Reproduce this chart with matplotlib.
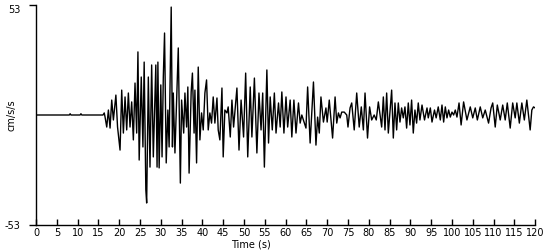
"""
Accelerogram trace (cm/s/s) against time, read off the reference picture.
"""

import matplotlib
matplotlib.use("Agg")
import matplotlib.pyplot as plt

# ==================== data ====================

# times (s) of the trace's turning points
TIME = [
    0.0, 8.0, 8.2, 8.4, 10.6, 10.8, 11.0, 16.1, 16.4, 16.6,
    17.0, 17.4, 17.8, 18.2, 18.6, 19.2, 19.6, 20.2, 20.6, 21.0, 21.4, 21.8,
    22.2, 22.6, 23.0, 23.4, 23.8, 24.2, 24.5, 24.8, 25.3, 25.7, 26.0, 26.4,
    26.6, 27.0, 27.4, 27.8, 28.2, 28.8, 29.1, 29.3, 29.6, 30.0, 30.3, 30.6,
    30.9, 31.3, 31.7, 32.0, 32.5, 32.8, 33.0, 33.4, 33.8, 34.2, 34.7, 35.0,
    35.5, 35.8, 36.2, 36.5, 36.8, 37.3, 37.6, 38.0, 38.2, 38.6, 39.0, 39.4,
    39.8, 40.2, 40.6, 41.0, 41.4, 41.8, 42.2, 42.6, 43.0, 43.5, 43.8,
    44.2, 44.7, 45.0, 45.4, 45.9, 46.2, 46.7, 47.1, 47.5, 48.3, 48.8, 49.3,
    49.9, 50.4, 50.9, 51.5, 51.9, 52.5, 53.1, 53.6, 54.1, 54.5, 54.9, 55.5,
    55.9, 56.3, 56.8, 57.3, 57.7, 58.3, 58.7, 59.1, 59.6, 60.1, 60.5, 61.1,
    61.5, 62.0, 62.5,
    63.1, 63.5, 63.9, 64.9, 65.3, 65.9, 66.3, 66.7, 67.3, 67.7, 68.1, 68.5,
    69.1, 69.7, 70.0, 70.5, 71.3, 71.9, 72.3, 72.7, 73.1, 73.5, 74.1, 74.7,
    75.0, 75.5, 75.9, 76.5, 77.1, 77.7, 78.2, 78.7, 79.1, 79.7, 80.2, 80.7,
    81.3, 81.8, 82.3,
    83.1, 83.5, 83.9, 84.3, 84.7, 85.5, 85.9, 86.3, 86.7, 87.1, 87.5, 87.9,
    88.3, 88.7, 89.1, 89.5, 89.9, 90.3, 90.7, 91.1, 91.5, 91.9, 92.3, 92.8,
    93.4, 94.0, 94.3, 94.8, 95.2, 95.8, 96.2, 96.7, 97.2, 97.6, 98.0, 98.4,
    98.8, 99.2, 99.6, 100.0, 100.4, 100.8, 101.2, 101.7, 102.2, 102.8,
    103.6, 104.4, 105.0, 105.6, 106.1, 106.8, 107.4, 108.0, 108.8, 109.4,
    109.8, 110.4, 110.9, 111.6, 112.2, 112.8, 113.3, 114.0, 114.6, 115.2,
    115.6, 116.2, 116.8, 117.4, 118.0, 118.8, 119.2, 119.6, 120.0,
]

# acceleration (cm/s/s) at those times
ACCEL = [
    0.0, 0.0, 0.6, 0.0, 0.0, 0.6, 0.0, 0.0, 1.0, -1.0,
    -5.8, 2.4, -6.3, 7.2, -2.4, 9.6, -5.8, -16.9, 12.0, -8.7, 8.7, -7.2,
    10.6, -5.8, 6.3, -12.0, 15.4, -8.7, 30.4, -21.7, 18.3, -15.4, 25.5, -36.1,
    -42.4, 18.3, -25.1, 24.1, -20.2, 24.1, -25.1, 25.5, -25.5, 14.5, -20.2, 18.3,
    39.5, -23.1, 2.4, -15.4, 52.0, -15.4, 10.6, -18.3, 7.2, 32.3, -32.8, 7.2,
    -8.7, 10.6, -5.8, 13.5, -28.0, 11.1, 20.2, -8.7, 12.0, -23.1, 23.1, -12.0,
    1.0, -7.2, 10.6, 16.9, -7.2, 1.0, -3.9, 8.7, -3.9, 8.2, -7.2,
    -12.0, 13.0, -20.2, 2.4, 1.0, 3.9, -10.6, 7.2, -5.8, 13.0, -16.9, 7.2,
    -10.6, 20.2, -20.2, 13.5, -10.6, 17.8, -18.3, 10.6, -7.2, 10.6, -25.1, 21.7,
    -13.5, 8.7, -7.2, 10.6, -8.7, 5.8, -5.8, 11.1, -8.7, 8.7, -5.8, 7.2,
    -10.6, 7.2, -8.7,
    5.8, -3.9, 0.0, -6.3, 13.5, -13.5, 1.0, 15.9, -14.5, -1.0, -8.7, 8.7,
    -3.4, 3.4, -3.4, 7.2, -11.1, 8.7, -3.9, 1.0, -1.4, 1.4, 1.4, 0.0,
    -5.8, 3.4, 5.8, -7.2, 10.6, -5.8, 3.9, -7.2, 10.6, -11.1, 3.9, -2.4,
    0.0, -2.4, 6.3,
    -5.8, 8.7, -7.2, 10.6, -8.7, 12.0, -11.1, 5.8, -7.2, 5.8, -3.4, 3.4,
    -1.4, 3.9, -6.3, 5.8, -4.8, 7.2, -8.7, 2.4, -3.9, 5.8, -2.4, 4.8,
    -2.4, 3.4, -1.4, 3.4, -3.4, 2.4, -1.4, 3.9, -2.4, 4.8, -3.4, 3.9,
    -1.4, 2.4, -1.0, 1.4, 0.0, 2.4, -1.0, 5.8, -4.8, 6.3,
    -2.4, 3.9, -1.4, 3.4, -2.4, 3.9, -1.4, 2.4, -3.9, 3.4,
    5.8, -5.8, 4.8, -2.4, 4.8, -2.4, 5.8, -6.3, 5.8, -1.4,
    5.8, -3.9, 5.8, -2.4, 7.2, -7.2, 2.4, 3.9, 3.4,
]

Y_MAX = 53
X_TICKS = list(range(0, 121, 5))

# ==================== plot ====================

plt.rcParams["font.family"] = "DejaVu Sans"

fig = plt.figure(figsize=(5.5, 2.5), dpi=100)
ax = fig.add_axes([0.0655, 0.10, 0.9075, 0.88])

ax.plot(TIME, ACCEL, color="black", linewidth=1.0)

ax.set_xlim(0, 120)
ax.set_ylim(-Y_MAX, Y_MAX)
ax.spines["top"].set_visible(False)
ax.spines["right"].set_visible(False)
for side in ["left", "bottom"]:
    ax.spines[side].set_linewidth(1.0)

ax.set_xticks(X_TICKS)
ax.set_xticklabels([str(t) for t in X_TICKS], fontsize=7)
ax.tick_params(axis="x", direction="in", length=4, width=1.0, pad=2)

ax.set_yticks([-Y_MAX, Y_MAX])
ax.set_yticklabels([str(-Y_MAX), str(Y_MAX)], fontsize=7)
ax.tick_params(axis="y", direction="out", length=5, width=1.0, pad=6)
ax.get_yticklabels()[1].set_verticalalignment("top")

ax.set_xlabel("Time (s)", fontsize=7, labelpad=0)
ax.xaxis.set_label_coords(0.43, -0.065)
ax.set_ylabel("cm/s/s", fontsize=7)
ax.yaxis.set_label_coords(-0.04, 0.5)

fig.savefig("out.png", dpi=100)
